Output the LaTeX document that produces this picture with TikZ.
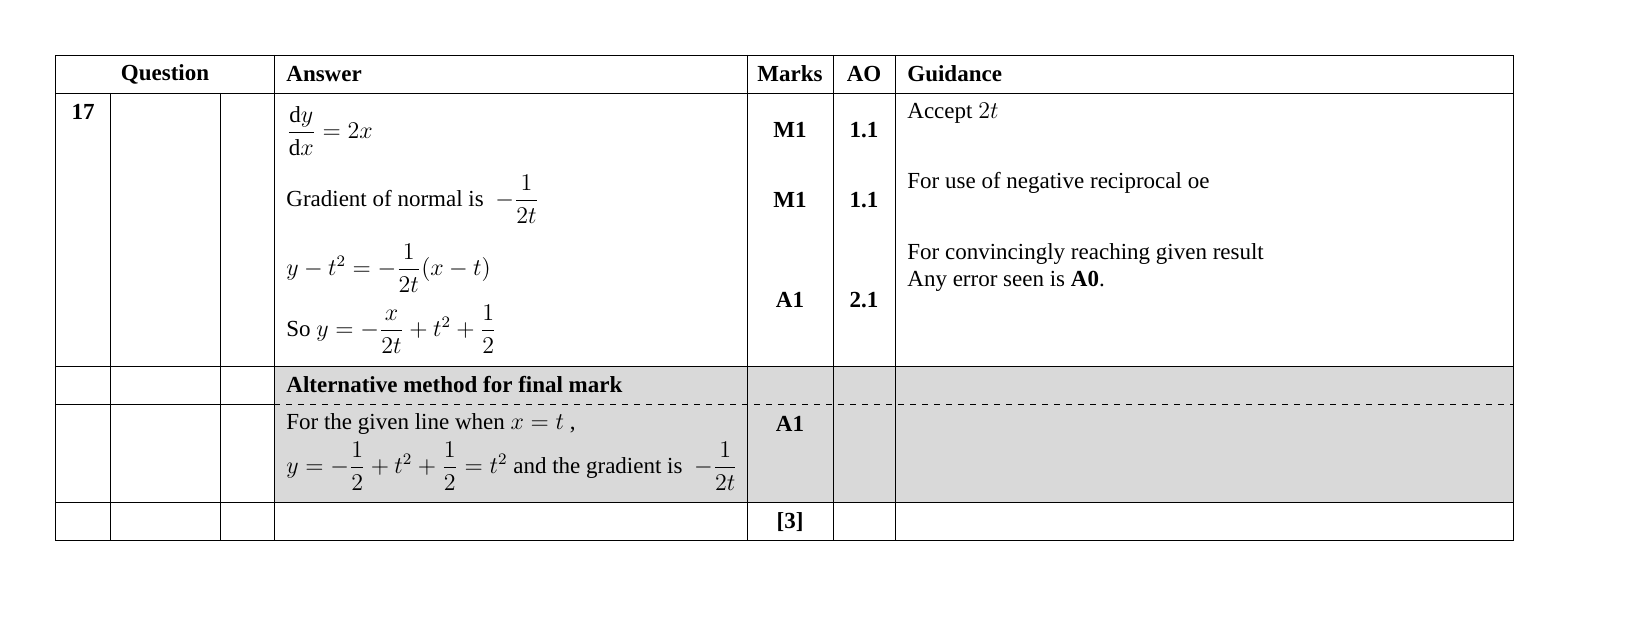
\documentclass[tikz,border=0pt]{standalone}
\usepackage{amsmath}
\usepackage{fontspec}
\setmainfont{Liberation Serif}
\begin{document}
\begin{tikzpicture}[x=0.5pt,y=-0.5pt,
  t/.style={anchor=west,inner sep=0pt,font=\fontsize{11.5}{13}\selectfont},
  c/.style={anchor=center,inner sep=0pt,font=\fontsize{11.5}{13}\selectfont\bfseries}]
\useasboundingbox (0,0) rectangle (1630,619);
\fill[gray!30] (274,366) rectangle (1513,502);
\draw[line width=0.45pt] (55,55) rectangle (1513,540);
\foreach \y in {93,366,502} \draw[line width=0.45pt] (55,\y) -- (1513,\y);
\draw[line width=0.45pt] (55,404) -- (274,404);
\draw[dashed,line width=0.4pt] (274,404) -- (1513,404);
\foreach \x in {110,220} \draw[line width=0.45pt] (\x,93) -- (\x,540);
\foreach \x in {274,747,833,895} \draw[line width=0.45pt] (\x,55) -- (\x,540);
\node[c] (hq) at (165,74) {Question};
\node[t,font=\fontsize{11.5}{13}\selectfont\bfseries] (ha) at (286,74) {Answer};
\node[c] (hm) at (790,74) {Marks};
\node[c] (ho) at (864,74) {AO};
\node[t,font=\fontsize{11.5}{13}\selectfont\bfseries] (hg) at (907,74) {Guidance};
\node[c] (q) at (83,112) {17};
\node[t] (a1) at (286,131) {$\dfrac{\mathrm{d}y}{\mathrm{d}x}=2x$};
\node[t] (a2) at (286,199) {Gradient of normal is\enspace $-\dfrac{1}{2t}$};
\node[t] (a3) at (286,268) {$y-t^{2}=-\dfrac{1}{2t}(x-t)$};
\node[t] (a4) at (286,329) {So $y=-\dfrac{x}{2t}+t^{2}+\dfrac{1}{2}$};
\node[c] (m1) at (790,130) {M1};
\node[c] (o1) at (864,130) {1.1};
\node[c] (m2) at (790,200) {M1};
\node[c] (o2) at (864,200) {1.1};
\node[c] (m3) at (790,300) {A1};
\node[c] (o3) at (864,300) {2.1};
\node[t] (g1) at (907,113) {Accept $2t$};
\node[t] (g2) at (907,183) {For use of negative reciprocal oe};
\node[t] (g3) at (907,254) {For convincingly reaching given result};
\node[t] (g4) at (907,281) {Any error seen is \textbf{A0}.};
\node[t,font=\fontsize{11.5}{13}\selectfont\bfseries] (alt) at (286,385) {Alternative method for final mark};
\node[t] (b1) at (286,424) {For the given line when $x=t$ ,};
\node[t] (b2) at (286,466) {$y=-\dfrac{1}{2}+t^{2}+\dfrac{1}{2}=t^{2}$ and the gradient is\enspace $-\dfrac{1}{2t}$};
\node[c] (m4) at (790,424) {A1};
\node[c] (tot) at (790,522) {[3]};
\end{tikzpicture}
\end{document}
